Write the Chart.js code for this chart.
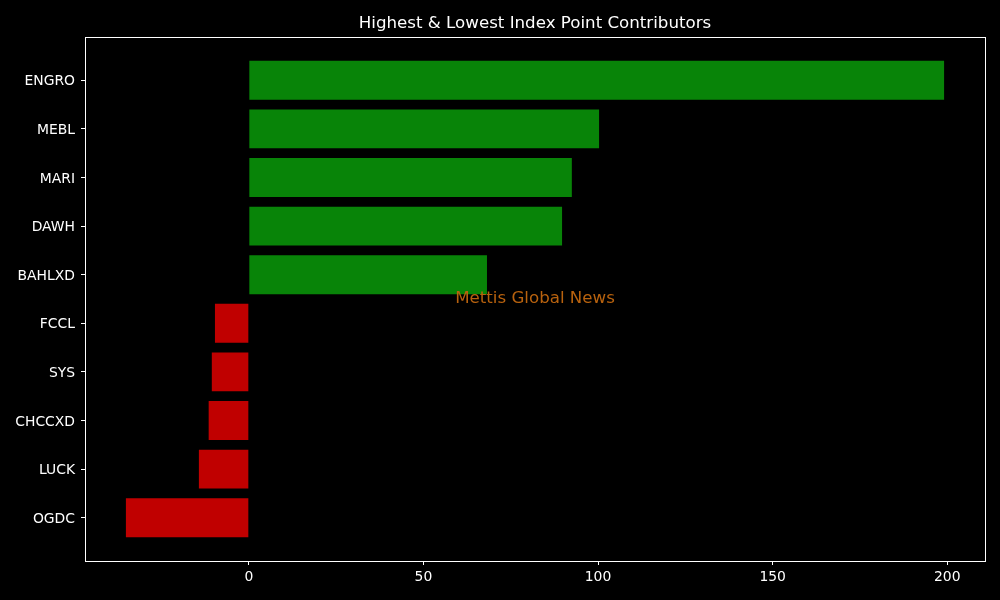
<!DOCTYPE html>
<html><head><meta charset="utf-8">
<script src="https://cdn.jsdelivr.net/npm/chart.js@4"></script>
<style>html,body{margin:0;padding:0;background:#000;}#wrap{width:1000px;height:600px;}</style>
</head><body><div id="wrap"><canvas id="c" width="1000" height="600"></canvas></div>
<script>
const categories = ["ENGRO","MEBL","MARI","DAWH","BAHLXD","FCCL","SYS","CHCCXD","LUCK","OGDC"];
const values = [199.1, 100.3, 92.5, 89.7, 68.2, -9.7, -10.6, -11.5, -14.3, -35.2];
const xTicks = [0, 50, 100, 150, 200];
const titleText = "Highest & Lowest Index Point Contributors";
const watermark = "Mettis Global News";

const FONT = "'DejaVu Sans', sans-serif";
const barColors = values.map(v => v >= 0 ? '#088408' : '#c00000');

const framePlugin = {
  id: 'frame',
  afterDatasetsDraw(chart) {
    const {ctx, chartArea: a} = chart;
    ctx.save();
    ctx.font = "16.67px " + FONT;
    ctx.fillStyle = '#b8620e';
    ctx.textAlign = 'center';
    ctx.textBaseline = 'middle';
    ctx.fillText(watermark, (a.left + a.right) / 2, (a.top + a.bottom) / 2);
    ctx.restore();
  },
  afterDraw(chart) {
    const {ctx, chartArea: a} = chart;
    ctx.save();
    ctx.strokeStyle = '#fff';
    ctx.lineWidth = 1;
    ctx.strokeRect(Math.round(a.left) + 0.5, Math.round(a.top) + 0.5, Math.round(a.right - a.left), Math.round(a.bottom - a.top));
    ctx.font = "16.67px " + FONT;
    ctx.fillStyle = '#fff';
    ctx.textAlign = 'center';
    ctx.textBaseline = 'middle';
    ctx.fillText(titleText, (a.left + a.right) / 2, 24);
    ctx.restore();
  }
};

const xMin = Math.min(...values), xMax = Math.max(...values);
const xPad = (xMax - xMin) * 0.05;

new Chart(document.getElementById('c'), {
  type: 'bar',
  data: {
    datasets: [{
      data: values.map((v, i) => ({x: v, y: i})),
      backgroundColor: barColors,
      borderWidth: 0,
      barPercentage: 0.8,
      categoryPercentage: 1.0
    }]
  },
  options: {
    indexAxis: 'y',
    responsive: false,
    animation: false,
    devicePixelRatio: 1,
    layout: {padding: {top: 37, right: 15, left: 0, bottom: 0}},
    plugins: {legend: {display: false}, title: {display: false}, tooltip: {enabled: false}},
    scales: {
      x: {
        type: 'linear',
        min: xMin - xPad,
        max: xMax + xPad,
        offset: false,
        afterBuildTicks: axis => { axis.ticks = xTicks.map(v => ({value: v})); },
        afterFit: axis => { axis.height = 39; },
        grid: {display: true, offset: false, drawOnChartArea: false, drawTicks: true, tickLength: 4, color: '#fff'},
        border: {display: true, color: '#fff'},
        ticks: {color: '#fff', font: {family: FONT, size: 13.9}, padding: 4, maxRotation: 0}
      },
      y: {
        type: 'linear',
        reverse: true,
        offset: false,
        min: -0.4 - 0.49,
        max: 9.4 + 0.49,
        afterBuildTicks: axis => { axis.ticks = categories.map((_, i) => ({value: i})); },
        afterFit: axis => { axis.width = 85; },
        grid: {display: true, offset: false, drawOnChartArea: false, drawTicks: true, tickLength: 4, color: '#fff'},
        border: {display: true, color: '#fff'},
        ticks: {color: '#fff', font: {family: FONT, size: 13.9}, padding: 6, labelOffset: 1.5,
          callback: v => categories[v] !== undefined ? categories[v] : ''}
      }
    }
  },
  plugins: [framePlugin]
});
</script></body></html>
